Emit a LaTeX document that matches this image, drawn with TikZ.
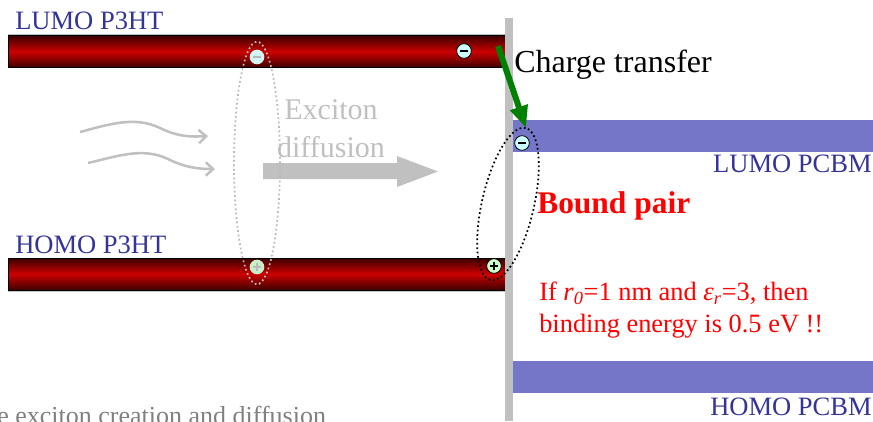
\documentclass[tikz,border=0pt]{standalone}
\usepackage{fontspec}
\setmainfont{Liberation Serif}
\usetikzlibrary{arrows.meta}
\definecolor{lbl}{RGB}{51,51,153}
\definecolor{barDark}{RGB}{60,0,0}
\definecolor{barRed}{RGB}{204,0,0}
\definecolor{band}{RGB}{118,118,200}
\definecolor{lgray}{RGB}{192,192,192}
\definecolor{ringgray}{RGB}{185,185,185}
\definecolor{ecyan}{RGB}{204,255,255}
\definecolor{hgreen}{RGB}{204,255,204}
\definecolor{fadecyan}{RGB}{210,245,245}
\definecolor{fadegreen}{RGB}{200,240,200}
\definecolor{ctgreen}{RGB}{0,128,0}
\definecolor{bottomgray}{RGB}{128,128,128}
\tikzset{
  bar/.style={draw=black, line width=0.75pt, top color=barDark, bottom color=barDark, middle color=barRed, rectangle, inner sep=0pt, minimum width=372.75pt, minimum height=24pt, anchor=north west},
  pcbm/.style={fill=band, draw=none, rectangle, inner sep=0pt, minimum width=270pt, minimum height=24pt, anchor=north west},
  lbltext/.style={inner sep=0pt, text=lbl, font=\fontsize{19.9pt}{24pt}\selectfont},
  charge/.style={circle, inner sep=0pt, minimum size=11pt, line width=0.6pt},
  eminus/.style={charge, draw=black, fill=ecyan, path picture={\draw[line width=1.9pt, black] ([xshift=-3pt]path picture bounding box.center) -- ([xshift=3pt]path picture bounding box.center);}},
  hplus/.style={charge, draw=black, fill=hgreen, path picture={\draw[line width=1.7pt, black] ([xshift=-3pt]path picture bounding box.center) -- ([xshift=3pt]path picture bounding box.center) ([yshift=-3pt]path picture bounding box.center) -- ([yshift=3pt]path picture bounding box.center);}},
  fademinus/.style={charge, draw=none, fill=fadecyan, path picture={\draw[line width=1.9pt, ringgray] ([xshift=-3pt]path picture bounding box.center) -- ([xshift=3pt]path picture bounding box.center);}},
  fadeplus/.style={charge, draw=none, fill=fadegreen, path picture={\draw[line width=1.7pt, ringgray] ([xshift=-3pt]path picture bounding box.center) -- ([xshift=3pt]path picture bounding box.center) ([yshift=-3pt]path picture bounding box.center) -- ([yshift=3pt]path picture bounding box.center);}},
  wavy/.style={draw=lgray, line width=1.9pt, -{Straight Barb[length=5.5pt, width=10pt]}},
  excring/.style={draw=ringgray, line width=1.3pt, dotted},
  boundring/.style={draw=black, line width=1.3pt, dotted},
  ctarrow/.style={draw=ctgreen, line width=4.5pt, -{Triangle[length=16.5pt, width=13pt]}},
}
\begin{document}
\begin{tikzpicture}[x=0.75pt, y=-0.75pt]
\useasboundingbox (0,0) rectangle (873,421);
\clip (0,0) rectangle (873,421);

% P3HT bars
\draw[lgray, line width=0.75pt] (8,34) -- (505,34);
\node[bar] (lumoP) at (8,35) {};
\draw[lgray, line width=0.75pt] (8,291) -- (505,291);
\node[bar] (homoP) at (8,257.5) {};

% PCBM bands
\node[pcbm] (lumoC) at (513,120) {};
\node[pcbm] (homoC) at (513,361) {};

% interface line
\fill[lgray] (505,18) rectangle (513,421);

% labels
\node[lbltext, anchor=base west] (l1) at (15,29) {LUMO P3HT};
\node[lbltext, anchor=base west] (l2) at (15,253) {HOMO P3HT};
\node[lbltext, anchor=base east] (l3) at (872,172) {LUMO PCBM};
\node[lbltext, anchor=base east] (l4) at (872,415) {HOMO PCBM};

% exciton diffusion
\node[inner sep=0pt, text=lgray, font=\fontsize{22.5pt}{27pt}\selectfont, anchor=base] (ex1) at (331,119) {Exciton};
\node[inner sep=0pt, text=lgray, font=\fontsize{22.5pt}{27pt}\selectfont, anchor=base] (ex2) at (331,157) {diffusion};
\fill[lgray] (263,163) -- (397,163) -- (397,156) -- (438,171.5) -- (397,187) -- (397,179) -- (263,179) -- cycle;

% wavy arrows
\coordinate (w1s) at (80,132);
\coordinate (w1e) at (208,136);
\coordinate (w2s) at (88,163);
\coordinate (w2e) at (215,169);
\draw[wavy] (w1s) .. controls (110,124) and (135,116) .. (160,128) .. controls (178,137) and (192,137) .. (w1e);
\draw[wavy] (w2s) .. controls (118,156) and (143,147) .. (168,159) .. controls (186,168) and (200,169) .. (w2e);

% exciton ring and charges
\draw[excring] (257,163) ellipse [x radius=17.25pt, y radius=91pt];
\node[fademinus] (fe) at (257,57) {};
\node[fadeplus] (fh) at (257,267) {};

% bound pair ring
\draw[boundring] (508,204) ellipse [x radius=58.5pt, y radius=19.5pt, rotate=77];

% charges
\node[eminus] (e1) at (464,51) {};
\node[eminus] (e2) at (522,143) {};
\node[hplus] (h1) at (494,266) {};

% charge transfer arrow
\coordinate (cts) at (498,46);
\coordinate (cte) at (526,128);
\draw[ctarrow] (cts) -- (cte);

\node[inner sep=0pt, text=black, font=\fontsize{24pt}{29pt}\selectfont, anchor=base west] (ct) at (514,72) {Charge transfer};
\node[inner sep=0pt, text=red, font=\fontsize{23.6pt}{28pt}\selectfont\bfseries, anchor=base west] (bp) at (537,213) {Bound pair};
\node[inner sep=0pt, text=red, font=\fontsize{19.8pt}{24pt}\selectfont, anchor=base west] (if1) at (539,300) {If \textit{r}\textsubscript{\textit{0}}=1 nm and \textit{ε}\textsubscript{\textit{r}}=3, then};
\node[inner sep=0pt, text=red, font=\fontsize{19.8pt}{24pt}\selectfont, anchor=base west] (if2) at (539,332) {binding energy is 0.5 eV !!};

% bottom caption (cut off at the lower edge, as in the reference)
\node[inner sep=0pt, text=bottomgray, font=\fontsize{19.5pt}{24pt}\selectfont, anchor=base west] (cap) at (-3,424) {e exciton creation and diffusion};
\end{tikzpicture}
\end{document}
